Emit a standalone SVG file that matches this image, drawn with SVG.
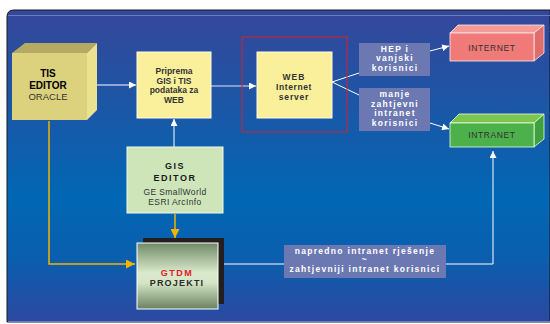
<svg xmlns="http://www.w3.org/2000/svg" width="550" height="324" viewBox="0 0 550 324">
  <defs>
    <linearGradient id="bg" x1="0" y1="0" x2="0" y2="1">
      <stop offset="0" stop-color="#35479a"/>
      <stop offset="0.3" stop-color="#1d56a6"/>
      <stop offset="0.6" stop-color="#0067b4"/>
      <stop offset="0.8" stop-color="#0b5eae"/>
      <stop offset="1" stop-color="#2d48a0"/>
    </linearGradient>
    <linearGradient id="gtdm" x1="0" y1="0" x2="0" y2="1">
      <stop offset="0" stop-color="#6f8a66"/>
      <stop offset="0.45" stop-color="#dbe9cc"/>
      <stop offset="0.6" stop-color="#d6e6c6"/>
      <stop offset="1" stop-color="#6a8262"/>
    </linearGradient>
    <marker id="aw" viewBox="0 0 10 10" refX="10" refY="5" markerWidth="7" markerHeight="7" markerUnits="userSpaceOnUse" orient="auto">
      <path d="M0,0 L10,5 L0,10 z" fill="#ffffff"/>
    </marker>
    <marker id="ay" viewBox="0 0 10 10" refX="10" refY="5" markerWidth="9" markerHeight="9" markerUnits="userSpaceOnUse" orient="auto">
      <path d="M0,0 L10,5 L0,10 z" fill="#f2b400"/>
    </marker>
  </defs>
  <style>
    .t { font-family: "Liberation Sans", Arial, sans-serif; text-anchor: middle; }
    .b { font-weight: bold; }
    .dk { fill: #333333; }
    .wt { fill: #ffffff; font-weight: bold; font-size: 8.5px; letter-spacing: 1.3px; }
    .lbl { fill: #6b78b1; }
    .wl { stroke: #ffffff; stroke-width: 1; fill: none; }
    .yl { stroke: #f2b400; stroke-width: 1.5; fill: none; }
  </style>

  <!-- background panel -->
  <rect x="0" y="0" width="550" height="324" fill="#ffffff"/>
  <path d="M7,322 L7,17 Q7,10 14,10 L550,10 L550,322 Z" fill="url(#bg)" stroke="#1a1a1a" stroke-width="1"/>
  <line x1="8" y1="15.5" x2="550" y2="15.5" stroke="#6a7cc0" stroke-width="1"/>
  <line x1="8" y1="321.5" x2="550" y2="321.5" stroke="#6a7cc0" stroke-width="1"/>

  <!-- connectors -->
  <g id="connectors">
    <line class="wl" x1="91" y1="85" x2="136" y2="85" marker-end="url(#aw)"/>
    <line class="wl" x1="211" y1="86" x2="256" y2="86" stroke-opacity="0.85" marker-end="url(#aw)"/>
    <line class="wl" x1="174" y1="147" x2="174" y2="119" marker-end="url(#aw)"/>
    <line class="wl" x1="332" y1="82" x2="359" y2="73"/>
    <line class="wl" x1="430" y1="51" x2="449" y2="46" marker-end="url(#aw)"/>
    <line class="wl" x1="332" y1="82" x2="359" y2="95"/>
    <line class="wl" x1="430" y1="123" x2="449" y2="129" marker-end="url(#aw)"/>
    <polyline class="wl" points="219,264 493,264 493,151" marker-end="url(#aw)"/>
    <polyline class="yl" points="49,121 49,264 135,264" marker-end="url(#ay)"/>
    <line class="yl" x1="175" y1="214" x2="175" y2="238" marker-end="url(#ay)"/>
  </g>

  <!-- TIS editor cube -->
  <g id="tis-editor">
    <polygon points="12,53 25,43 97,43 87,53" fill="#b6aa62"/>
    <polygon points="87,53 97,43 97,110 87,120" fill="#ebe28f"/>
    <rect x="12" y="53" width="75" height="67" fill="#dcd27e"/>
    <text class="t b" x="48" y="77" font-size="10">TIS</text>
    <text class="t b" x="48" y="89" font-size="10">EDITOR</text>
    <text class="t dk" x="48" y="100" font-size="9.5">ORACLE</text>
  </g>

  <!-- data preparation -->
  <g id="priprema">
    <rect x="137" y="52" width="74" height="66" fill="#faf09c" stroke="#fffbe0" stroke-width="1"/>
    <text class="t b dk" x="174" y="74" font-size="8.5">Priprema</text>
    <text class="t b dk" x="174" y="83.5" font-size="8.5">GIS i TIS</text>
    <text class="t b dk" x="174" y="93" font-size="8.5">podataka za</text>
    <text class="t b dk" x="174" y="102.5" font-size="8.5">WEB</text>
  </g>

  <!-- web server -->
  <g id="web-server">
    <rect x="242" y="37" width="105" height="95" fill="none" stroke="#d8202a" stroke-width="1"/>
    <rect x="257" y="52" width="75" height="66" fill="#faf09c" stroke="#fffbe0" stroke-width="1"/>
    <text class="t b dk" x="294" y="80" font-size="8.5" letter-spacing="1">WEB</text>
    <text class="t b dk" x="294" y="90" font-size="8.5" letter-spacing="0.6">Internet</text>
    <text class="t b dk" x="294" y="100" font-size="8.5" letter-spacing="0.8">server</text>
  </g>

  <!-- link labels -->
  <g id="label-hep">
    <rect class="lbl" x="359" y="43" width="71" height="33"/>
    <text class="t wt" x="395" y="51.5">HEP i</text>
    <text class="t wt" x="395" y="61">vanjski</text>
    <text class="t wt" x="395" y="70.5">korisnici</text>
  </g>
  <g id="label-manje">
    <rect class="lbl" x="359" y="88" width="71" height="43"/>
    <text class="t wt" x="395" y="97">manje</text>
    <text class="t wt" x="395" y="106.5">zahtjevni</text>
    <text class="t wt" x="395" y="116">intranet</text>
    <text class="t wt" x="395" y="125.5">korisnici</text>
  </g>
  <g id="label-napredno">
    <rect class="lbl" x="284" y="245" width="162" height="33"/>
    <text class="t wt" x="365" y="253.5" letter-spacing="1">napredno intranet rješenje</text>
    <text class="t wt" x="365" y="262" font-size="9">~</text>
    <text class="t wt" x="365" y="271.5" letter-spacing="1">zahtjevniji intranet korisnici</text>
  </g>

  <!-- internet -->
  <g id="internet">
    <polygon points="450,33 458,25 544,25 534,33" fill="#f39b98" stroke="#ffe8e8" stroke-width="0.8"/>
    <polygon points="534,33 544,25 544,53 534,61" fill="#de6e6c" stroke="#ffe8e8" stroke-width="0.8"/>
    <rect x="450" y="33" width="84" height="28" fill="#f07a78" stroke="#ffe8e8" stroke-width="0.8"/>
    <text class="t dk" x="492" y="51" font-size="8.5" letter-spacing="0.6">INTERNET</text>
  </g>

  <!-- intranet -->
  <g id="intranet">
    <polygon points="450,123 459,114 544,114 534,123" fill="#7cc54f" stroke="#e8ffe0" stroke-width="0.8"/>
    <polygon points="534,123 544,114 544,139 534,147" fill="#3ea03e" stroke="#e8ffe0" stroke-width="0.8"/>
    <rect x="450" y="123" width="84" height="24" fill="#4cb04b" stroke="#e8ffe0" stroke-width="0.8"/>
    <text class="t dk" x="492" y="138" font-size="8.5" letter-spacing="0.6">INTRANET</text>
  </g>

  <!-- GIS editor -->
  <g id="gis-editor">
    <rect x="127" y="147" width="96" height="66" fill="#cde5b9" stroke="#f0fae8" stroke-width="1"/>
    <text class="t b" x="175" y="169" font-size="9" letter-spacing="1.5" fill="#1a1a1a">GIS</text>
    <text class="t b" x="175" y="180.5" font-size="9" letter-spacing="1.5" fill="#1a1a1a">EDITOR</text>
    <text class="t dk" x="175" y="195" font-size="8.5" letter-spacing="0.4">GE SmallWorld</text>
    <text class="t dk" x="175" y="205" font-size="8.5" letter-spacing="0.4">ESRI ArcInfo</text>
  </g>

  <!-- GTDM projects -->
  <g id="gtdm">
    <rect x="143" y="238" width="81" height="66" fill="#231f20"/>
    <rect x="137" y="243" width="81" height="66" fill="url(#gtdm)" stroke="#ffffff" stroke-width="1"/>
    <text class="t b" x="177" y="276" font-size="9" letter-spacing="1.5" fill="#e0202a">GTDM</text>
    <text class="t b" x="177" y="286" font-size="9" letter-spacing="1.2" fill="#2a2a2a">PROJEKTI</text>
  </g>
</svg>
